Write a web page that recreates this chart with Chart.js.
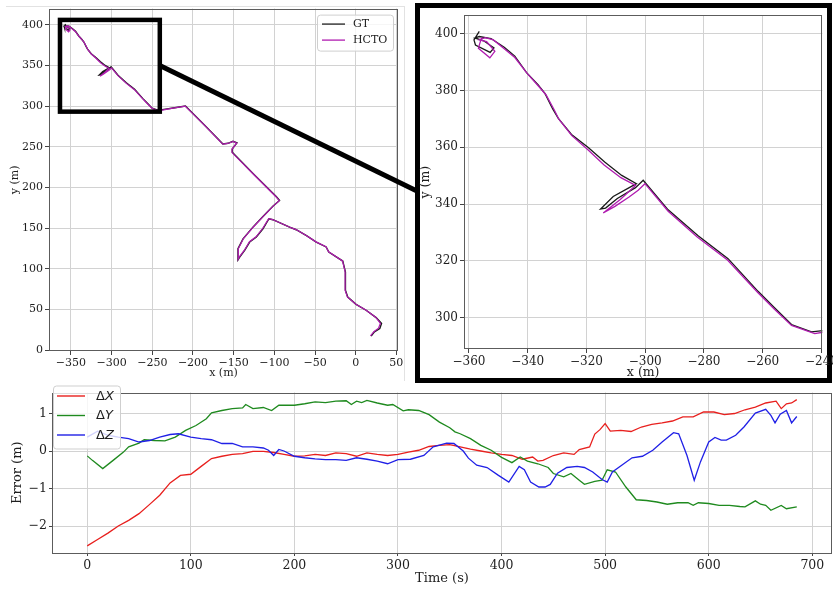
<!DOCTYPE html>
<html><head><meta charset="utf-8">
<script src="https://cdn.jsdelivr.net/npm/chart.js@4.4.0/dist/chart.umd.min.js"></script>
<style>
html,body{margin:0;padding:0;background:#fff;}
body{width:833px;height:589px;position:relative;overflow:hidden;}
canvas{position:absolute;}
#c1{left:0;top:0;z-index:2;}
#c2{left:417px;top:6px;z-index:4;}
#c3{left:0;top:383px;z-index:2;}
#figedge{position:absolute;left:6px;top:6px;width:398px;height:374px;border-top:1px solid #e2e2e2;border-right:1px solid #e2e2e2;z-index:1;}
#insetFrame{position:absolute;left:415px;top:3px;width:417px;height:380px;box-sizing:border-box;border:5px solid #000;z-index:3;pointer-events:none;}
</style></head>
<body>
<div id="figedge"></div>
<canvas id="c1" width="420" height="381"></canvas>
<div id="insetFrame"></div>
<canvas id="c2" width="423" height="377"></canvas>
<canvas id="c3" width="833" height="206"></canvas>
<script>
// ---------- trajectory data (m) ----------
const gtX = [-356.5,-358.3,-357.8,-352.8,-351.5,-355.0,-358.0,-356.5,-352.5,-348.0,-344.4,-340.4,-336.5,-334.1,-331.5,-329.6,-325.1,-319.4,-313.7,-308.0,-303.0,-310.9,-315.2,-313.5,-309.5,-303.3,-300.7,-292.2,-282.0,-271.8,-261.6,-256.0,-250.2,-243.4,-239.5,-224.5,-209.3,-186.0,-163.2,-157.0,-150.9,-146.0,-151.7,-151.7,-125.0,-97.7,-93.6,-101.8,-114.0,-126.3,-138.5,-144.7,-144.7,-142.6,-136.5,-130.3,-122.1,-114.0,-106.6,-101.8,-81.3,-73.1,-60.0,-48.5,-36.3,-33.1,-15.9,-12.6,-12.6,-9.8,0.5,12.8,25.1,31.8,29.6,23.0,19.0];
const gtY = [400.8,397.8,396.0,393.4,395.0,397.5,398.5,399.0,398.3,395.2,392.1,386.3,382.0,378.9,373.5,370.2,364.5,359.9,354.7,350.1,347.2,342.7,338.3,338.6,342.0,345.8,348.4,338.0,328.9,320.8,309.3,303.5,297.6,295.0,295.5,297.8,300.2,277.0,253.6,254.4,256.9,254.9,247.5,243.3,216.0,188.9,184.0,177.0,164.4,151.3,136.9,124.7,111.2,114.5,122.7,133.0,139.1,149.3,161.6,160.4,151.3,148.1,140.5,133.0,126.9,120.7,109.6,96.1,73.6,65.4,56.4,49.1,40.1,32.8,26.6,22.5,17.2];
const hctoX = [-355.7,-356.8,-352.9,-351.2,-354.0,-356.5,-354.5,-351.7,-348.0,-344.4,-340.2,-336.3,-333.8,-331.0,-329.4,-325.0,-319.6,-314.0,-308.3,-303.3,-308.5,-314.3,-310.3,-305.5,-302.4,-300.1,-292.2,-282.3,-272.0,-261.7,-256.0,-250.2,-242.3,-239.5,-224.5,-209.6,-186.3,-163.5,-157.2,-150.6,-146.3,-152.0,-152.0,-125.3,-98.0,-94.0,-101.5,-113.6,-125.8,-138.0,-144.2,-144.4,-143.0,-136.8,-130.6,-122.5,-114.4,-107.0,-102.2,-81.6,-73.3,-60.3,-48.8,-36.6,-33.3,-16.2,-13.0,-13.0,-10.2,0.2,12.4,24.5,30.4,28.0,22.3,18.2];
const hctoY = [398.7,394.9,391.5,393.8,397.2,397.8,398.6,397.8,394.7,391.6,386.0,381.5,378.5,373.2,369.9,364.1,359.2,353.8,349.3,346.6,341.6,336.9,339.2,342.5,344.9,347.2,337.5,328.4,320.3,308.9,303.0,297.3,294.4,294.9,297.6,300.0,277.0,253.3,254.2,256.6,254.6,247.3,243.0,216.0,188.7,183.8,177.2,164.6,151.5,137.2,125.0,112.0,114.8,122.9,133.3,139.4,149.6,161.8,160.6,151.5,148.3,140.7,133.2,127.1,120.9,109.8,96.3,73.8,65.6,56.4,49.4,40.6,33.0,27.0,22.8,17.6];
const trajLabels = ['GT', 'HCTO'];
const trajXTicks = [-350,-300,-250,-200,-150,-100,-50,0,50];
const trajYTicks = [0,50,100,150,200,250,300,350,400];
const insetXTicks = [-360,-340,-320,-300,-280,-260,-240];
const insetYTicks = [300,320,340,360,380,400];

// ---------- error data ----------
const tX = [0,10,20,30,40,50,60,70,80,90,100,110,120,130,140,150,160,170,180,190,200,210,220,230,240,250,260,270,280,290,300,310,320,330,340,350,360,370,380,390,400,410,420,430,435,440,450,460,470,475,485,490,495,500,505,515,525,535,545,555,565,575,585,595,605,615,625,635,645,655,665,670,675,680,685];
const dX = [-2.53,-2.36,-2.19,-2.0,-1.85,-1.67,-1.43,-1.18,-0.85,-0.65,-0.62,-0.41,-0.2,-0.14,-0.09,-0.07,-0.01,-0.01,-0.04,-0.09,-0.14,-0.13,-0.09,-0.12,-0.05,-0.07,-0.14,-0.05,-0.09,-0.12,-0.09,-0.03,0.02,0.12,0.15,0.17,0.11,0.05,0.0,-0.05,-0.09,-0.12,-0.22,-0.16,-0.27,-0.25,-0.12,-0.05,-0.09,0.04,0.11,0.45,0.57,0.73,0.53,0.55,0.52,0.64,0.71,0.75,0.8,0.91,0.91,1.04,1.04,0.97,1.0,1.1,1.17,1.28,1.33,1.13,1.26,1.28,1.37];
const tY = [0,5,15,25,35,40,50,55,65,75,85,95,105,115,120,130,140,150,153,160,170,178,185,200,210,220,230,240,250,255,260,265,270,280,290,295,305,310,320,330,340,350,355,360,370,380,390,400,410,418,425,435,445,450,460,467,475,480,490,497,502,510,520,530,540,550,560,570,580,585,590,600,610,620,630,635,645,650,655,660,670,675,685];
const dY = [-0.13,-0.25,-0.47,-0.25,-0.03,0.11,0.21,0.3,0.28,0.27,0.37,0.55,0.68,0.86,1.02,1.08,1.13,1.15,1.24,1.13,1.16,1.08,1.22,1.22,1.26,1.31,1.29,1.33,1.34,1.24,1.33,1.29,1.35,1.28,1.22,1.24,1.07,1.1,1.08,0.97,0.77,0.62,0.51,0.46,0.33,0.15,0.02,-0.17,-0.31,-0.16,-0.27,-0.34,-0.44,-0.6,-0.69,-0.6,-0.78,-0.89,-0.81,-0.78,-0.5,-0.56,-0.96,-1.3,-1.32,-1.36,-1.42,-1.38,-1.38,-1.45,-1.38,-1.4,-1.45,-1.45,-1.48,-1.49,-1.33,-1.42,-1.45,-1.58,-1.45,-1.54,-1.49];
const tZ = [0,10,20,30,40,50,60,70,80,88,100,110,120,130,140,150,160,170,175,180,185,190,200,210,220,230,240,250,260,270,280,290,300,312,325,334,347,354,363,368,376,386,397,407,417,422,428,436,442,447,454,463,473,480,488,497,502,507,518,526,536,546,555,566,571,579,586,592,600,606,612,617,626,634,645,655,660,664,669,675,680,685];
const dZ = [0.37,0.53,0.42,0.37,0.33,0.24,0.28,0.37,0.44,0.46,0.37,0.33,0.3,0.2,0.2,0.11,0.11,0.08,0.02,-0.12,0.04,0,-0.14,-0.18,-0.21,-0.23,-0.23,-0.25,-0.18,-0.22,-0.27,-0.34,-0.23,-0.22,-0.12,0.11,0.21,0.2,0,-0.19,-0.38,-0.44,-0.65,-0.83,-0.41,-0.5,-0.83,-0.96,-0.96,-0.89,-0.59,-0.44,-0.41,-0.44,-0.56,-0.76,-0.83,-0.56,-0.34,-0.18,-0.14,0.02,0.24,0.49,0.46,-0.12,-0.78,-0.29,0.24,0.36,0.29,0.29,0.42,0.64,1.01,1.11,0.95,0.75,0.98,1.08,0.75,0.92];
const errLetters = ['X', 'Y', 'Z'];
const errXTicks = [0,100,200,300,400,500,600,700];
const errYTicks = [-2,-1,0,1];

// ---------- styling ----------
const SERIF = "'DejaVu Serif', serif";
const TXT = '#1e1e1e';
const GRIDC = '#d2d2d2';
const GT_COLOR = '#1a1a1a';
const HC_COLOR = '#b01cb0';
const ERR_COLORS = ['#e8201e', '#1f8a1f', '#2020e6'];
const zoomBox = {x0: -363.5, x1: -240.8, y0: 293.3, y1: 406.1};

const pts = (xs, ys) => xs.map((x, i) => ({x: x, y: ys[i]}));
const minus = v => String(v).replace('-', '\u2212');

function axis(o) {
  return {
    type: 'linear', min: o.min, max: o.max,
    afterBuildTicks: s => { s.ticks = o.ticks.map(v => ({value: v})); },
    afterFit: s => { if (o.horiz) s.height = o.thick; else s.width = o.thick; },
    ticks: {callback: v => minus(v), font: {family: SERIF, size: o.size}, color: TXT,
            padding: o.tickPad, maxRotation: 0, autoSkip: false},
    grid: {color: GRIDC, lineWidth: 1, tickLength: o.tickLen, tickColor: '#444', drawTicks: true},
    border: {display: false},
    title: {display: true, text: o.title, color: TXT, font: {family: SERIF, size: o.titleSize},
            padding: o.titlePad}
  };
}

function frame(chart) {
  const {ctx, chartArea: a} = chart;
  ctx.save();
  ctx.strokeStyle = '#5c5c5c'; ctx.lineWidth = 1;
  ctx.strokeRect(Math.round(a.left) + 0.5, Math.round(a.top) + 0.5,
                 Math.round(a.right - a.left) - 1, Math.round(a.bottom - a.top) - 1);
  ctx.restore();
}
function legendBox(ctx, x, y, w, h) {
  ctx.save();
  ctx.beginPath();
  ctx.roundRect(x + 0.5, y + 0.5, w, h, 3);
  ctx.fillStyle = 'rgba(255,255,255,0.8)'; ctx.fill();
  ctx.strokeStyle = '#cfcfcf'; ctx.lineWidth = 1; ctx.stroke();
  ctx.restore();
}

const common = {
  responsive: false, animation: false, devicePixelRatio: 1,
  plugins: {legend: {display: false}, tooltip: {enabled: false}},
  elements: {point: {radius: 0}, line: {tension: 0}}
};

// ---------- chart 1: full trajectory ----------
new Chart(document.getElementById('c1'), {
  type: 'scatter',
  data: {datasets: [
    {label: trajLabels[1], data: pts(hctoX, hctoY), showLine: true, borderColor: HC_COLOR, borderWidth: 1.2, pointRadius: 0},
    {label: trajLabels[0], data: pts(gtX, gtY), showLine: true, borderColor: GT_COLOR, borderWidth: 1.4, pointRadius: 0}
  ]},
  options: Object.assign({}, common, {
    layout: {padding: {left: 0, top: 8, right: 22, bottom: 0}},
    scales: {
      x: axis({min: -377, max: 52, ticks: trajXTicks, size: 11, title: 'x (m)', titleSize: 11,
               titlePad: {top: 0, bottom: 1.4}, thick: 30, horiz: true, tickPad: 2, tickLen: 4}),
      y: axis({min: -1, max: 420, ticks: trajYTicks, size: 11, title: 'y (m)', titleSize: 11,
               titlePad: {top: 8.4, bottom: 0}, thick: 49, horiz: false, tickPad: 2, tickLen: 4})
    }
  }),
  plugins: [{
    id: 'deco1',
    afterDraw(chart) {
      frame(chart);
      const ctx = chart.ctx, xs = chart.scales.x, ys = chart.scales.y;
      const l = xs.getPixelForValue(zoomBox.x0), r = xs.getPixelForValue(zoomBox.x1);
      const t = ys.getPixelForValue(zoomBox.y1), b = ys.getPixelForValue(zoomBox.y0);
      ctx.save();
      ctx.strokeStyle = '#000'; ctx.lineWidth = 4.5;
      ctx.strokeRect(l, t, r - l, b - t);
      // connector to the inset frame
      ctx.lineWidth = 5;
      ctx.beginPath();
      ctx.moveTo(r, ys.getPixelForValue(350));
      ctx.lineTo(419, 192);
      ctx.stroke();
      ctx.restore();
      // legend
      const a = chart.chartArea;
      const bx = a.right - 81, by = a.top + 6;
      legendBox(ctx, bx, by, 76, 36);
      const cols = [GT_COLOR, HC_COLOR];
      ctx.save();
      ctx.font = '11px ' + SERIF; ctx.textBaseline = 'middle'; ctx.fillStyle = TXT;
      for (let i = 0; i < 2; i++) {
        const yy = by + 9.5 + i * 16;
        ctx.strokeStyle = cols[i]; ctx.lineWidth = i === 0 ? 1.6 : 1.3;
        ctx.globalAlpha = i === 0 ? 0.8 : 1;
        ctx.beginPath(); ctx.moveTo(bx + 5, yy); ctx.lineTo(bx + 28, yy); ctx.stroke();
        ctx.globalAlpha = 1;
        ctx.fillText(trajLabels[i], bx + 36, yy + 0.5);
      }
      ctx.restore();
    }
  }]
});

// ---------- chart 2: inset ----------
new Chart(document.getElementById('c2'), {
  type: 'scatter',
  data: {datasets: [
    {label: trajLabels[1], data: pts(hctoX, hctoY), showLine: true, borderColor: HC_COLOR, borderWidth: 1.3, pointRadius: 0},
    {label: trajLabels[0], data: pts(gtX, gtY), showLine: true, borderColor: GT_COLOR, borderWidth: 1.3, pointRadius: 0}
  ]},
  options: Object.assign({}, common, {
    layout: {padding: {left: 0, top: 2, right: 17, bottom: 0}},
    scales: {
      x: axis({min: -361.7, max: -239.7, ticks: insetXTicks, size: 12, title: 'x (m)', titleSize: 12.5,
               titlePad: {top: 0, bottom: 2.5}, thick: 34, horiz: true, tickPad: 2, tickLen: 4}),
      y: axis({min: 289, max: 406.5, ticks: insetYTicks, size: 12, title: 'y (m)', titleSize: 12.5,
               titlePad: {top: 1.5, bottom: 0}, thick: 47, horiz: false, tickPad: 2, tickLen: 4})
    }
  }),
  plugins: [{id: 'deco2', afterDraw(chart) { frame(chart); }}]
});

// ---------- chart 3: errors ----------
const errSeries = [[tX, dX], [tY, dY], [tZ, dZ]];
new Chart(document.getElementById('c3'), {
  type: 'scatter',
  data: {datasets: errSeries.map((s, i) => ({
    label: '\u0394' + errLetters[i], data: pts(s[0], s[1]), showLine: true,
    borderColor: ERR_COLORS[i], borderWidth: 1.3, pointRadius: 0, order: 3 - i
  }))},
  options: Object.assign({}, common, {
    layout: {padding: {left: 0, top: 9, right: 1, bottom: 0}},
    scales: {
      x: axis({min: -34, max: 719, ticks: errXTicks, size: 12.5, title: 'Time (s)', titleSize: 13,
               titlePad: {top: 0, bottom: 2.2}, thick: 36, horiz: true, tickPad: 2, tickLen: 3}),
      y: axis({min: -2.72, max: 1.56, ticks: errYTicks, size: 12.5, title: 'Error (m)', titleSize: 13,
               titlePad: {top: 9.7, bottom: 0}, thick: 52, horiz: false, tickPad: 2, tickLen: 3})
    }
  }),
  plugins: [{
    id: 'deco3',
    afterDraw(chart) {
      frame(chart);
      const ctx = chart.ctx, a = chart.chartArea;
      const bx = a.left + 1, by = a.top - 7;
      legendBox(ctx, bx, by, 67, 63);
      ctx.save();
      ctx.textBaseline = 'middle'; ctx.fillStyle = TXT;
      for (let i = 0; i < 3; i++) {
        const yy = by + 10.5 + i * 19.5;
        ctx.strokeStyle = ERR_COLORS[i]; ctx.lineWidth = 1.4;
        ctx.beginPath(); ctx.moveTo(bx + 4, yy); ctx.lineTo(bx + 32, yy); ctx.stroke();
        ctx.font = "13px 'DejaVu Sans'";
        const d = '\u0394';
        ctx.fillText(d, bx + 43, yy + 0.5);
        const w = ctx.measureText(d).width;
        ctx.font = "italic 13px 'DejaVu Sans'";
        ctx.fillText(errLetters[i], bx + 43 + w, yy + 0.5);
      }
      ctx.restore();
    }
  }]
});
</script>
</body></html>
